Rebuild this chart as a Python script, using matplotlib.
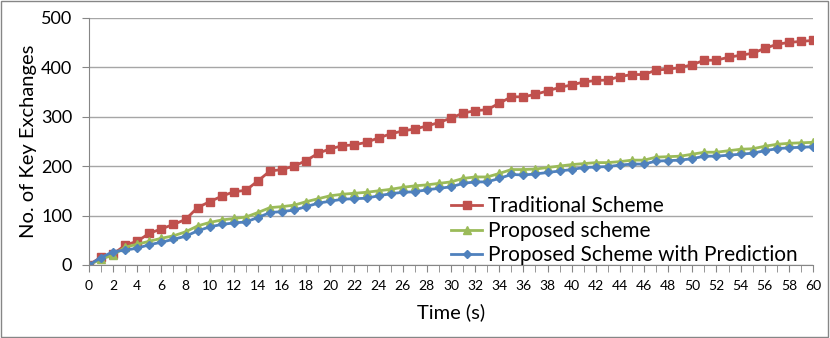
import matplotlib
matplotlib.use("Agg")
import matplotlib.pyplot as plt
from matplotlib.patches import Rectangle
from matplotlib.ticker import MultipleLocator

plt.rcParams['font.family'] = ['Lato', 'DejaVu Sans']

time_s = list(range(61))

traditional = [0, 16, 22, 40, 48, 64, 73, 82, 92, 116, 128,
               139, 148, 151, 170, 190, 193, 200, 211, 226, 235,
               241, 243, 248, 257, 265, 271, 275, 281, 288, 297,
               307, 312, 314, 327, 340, 340, 345, 352, 359, 364,
               370, 373, 374, 381, 385, 385, 394, 396, 399, 405,
               414, 414, 420, 424, 428, 438, 446, 450, 452, 454]

proposed = [0, 12, 20, 36, 42, 48, 54, 59, 67, 79, 86,
            91, 94, 97, 106, 116, 118, 121, 128, 134, 140,
            143, 145, 147, 150, 153, 157, 160, 162, 165, 168,
            175, 178, 178, 185, 193, 193, 194, 197, 200, 203,
            205, 207, 207, 209, 212, 212, 218, 219, 220, 224,
            228, 228, 231, 234, 235, 240, 244, 246, 247, 248]

proposed_pred = [0, 15, 27, 30, 34, 41, 46, 52, 58, 69, 77,
                 82, 85, 87, 96, 106, 108, 111, 118, 125, 129,
                 133, 134, 135, 140, 144, 147, 148, 152, 155, 158,
                 165, 168, 168, 175, 183, 182, 184, 187, 190, 193,
                 197, 198, 199, 202, 204, 204, 210, 211, 212, 215,
                 220, 220, 222, 224, 226, 231, 235, 237, 238, 239]

series_names = ["Traditional Scheme", "Proposed scheme", "Proposed Scheme with Prediction"]

fig = plt.figure(figsize=(8.3, 3.38), dpi=100)
ax = fig.add_axes([0.1072, 0.216, 0.8723, 0.7317])

ax.plot(time_s, traditional, color="#C0504D", marker="s", markersize=6, lw=2, label=series_names[0])
ax.plot(time_s, proposed, color="#9BBB59", marker="^", markersize=6, lw=2, label=series_names[1])
ax.plot(time_s, proposed_pred, color="#4F81BD", marker="D", markersize=4.5, lw=2, label=series_names[2])

ax.set_xlim(0, 60)
ax.set_ylim(0, 500)
ax.margins(0)
ax.xaxis.set_major_locator(MultipleLocator(2))
ax.xaxis.set_minor_locator(MultipleLocator(1))
ax.yaxis.set_major_locator(MultipleLocator(100))
ax.grid(axis="y", color="#A6A6A6", lw=1)
ax.set_axisbelow(True)
for s in ["top", "right"]:
    ax.spines[s].set_visible(False)
for s in ["left", "bottom"]:
    ax.spines[s].set_color("#868686")
ax.tick_params(axis="x", which="both", direction="out", length=5, color="#868686", labelsize=10, pad=6)
ax.tick_params(axis="y", length=5, color="#868686", labelsize=13, pad=7)
ax.set_xlabel("Time (s)", fontsize=14.5, labelpad=8)
ax.set_ylabel("No. of Key Exchanges", fontsize=14.5, labelpad=3)

ax.legend(loc="upper left", bbox_to_anchor=(0.5, 0.278), frameon=False, fontsize=15,
          handlelength=1.5, handletextpad=0.3, labelspacing=0.22, borderpad=0, borderaxespad=0)

fig.patches.append(Rectangle((0.001, 0.002), 0.997, 0.995, transform=fig.transFigure,
                             fill=False, edgecolor="#868686", lw=1))

fig.savefig("out.png", dpi=100)
